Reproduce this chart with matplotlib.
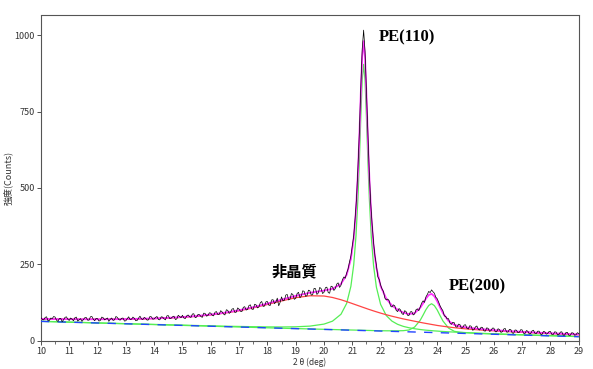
import matplotlib
matplotlib.use("Agg")
import matplotlib.pyplot as plt
import numpy as np

plt.rcParams['font.family'] = ['Noto Sans CJK JP', 'DejaVu Sans']

# --- Fit-Kurven (gemeinsames 2theta-Raster) ---
fit_x = [10.0, 10.5, 11.0, 11.5, 12.0, 12.5, 13.0, 13.5, 14.0, 14.5, 15.0, 15.5, 16.0, 16.5,
         17.0, 17.5, 18.0, 18.5, 19.0, 19.5, 20.0,
         20.3, 20.6, 20.8, 20.95, 21.05, 21.13, 21.2, 21.25, 21.3, 21.35, 21.4, 21.45, 21.5,
         21.55, 21.6, 21.67, 21.75, 21.85,
         22.0, 22.2, 22.4, 22.6, 22.8, 23.0, 23.2,
         23.4, 23.5, 23.6, 23.7, 23.8, 23.9, 24.0, 24.1, 24.2,
         24.4, 24.6, 24.8, 25.0,
         25.5, 26.0, 26.5, 27.0, 27.5, 28.0, 28.5, 29.0]

# amorpher Anteil + Untergrund (rot)
amorphous_fit = [71.8, 71.3, 70.9, 70.6, 70.5, 70.6, 71.1, 71.9, 73.1, 74.9, 77.3, 80.6, 85.1, 91.1,
                 98.6, 108.0, 119.2, 130.9, 141.4, 147.7, 146.9,
                 142.1, 134.7, 128.7, 123.9, 120.6, 118.0, 115.7, 114.1, 112.5, 110.8, 109.2, 107.6, 106.0,
                 104.3, 102.8, 100.7, 98.2, 95.3,
                 91.0, 85.7, 80.9, 76.4, 72.1, 68.3, 64.5,
                 60.8, 59.0, 57.3, 55.7, 54.0, 52.4, 50.7, 49.4, 48.1,
                 45.6, 43.4, 41.4, 39.6,
                 36.0, 33.1, 30.6, 28.3, 26.2, 24.2, 22.4, 20.5]

# PE(110) Peak + Untergrund (gruen)
pe110_fit = [64.3, 63.0, 61.7, 60.5, 59.1, 57.8, 56.6, 55.4, 54.1, 52.9, 51.8, 50.5, 49.4, 48.3,
             47.4, 46.6, 46.0, 45.7, 46.3, 48.5, 55.1,
             64.7, 87.3, 122.6, 178.7, 249.1, 342.9, 469.5, 591.2, 730.3, 852.9, 904.0, 852.7, 729.8,
             590.4, 468.5, 341.5, 247.3, 176.3,
             119.4, 83.1, 64.9, 54.4, 47.7, 43.2, 39.9,
             37.4, 36.3, 35.3, 34.5, 33.7, 32.9, 32.3, 31.6, 31.0,
             29.9, 29.0, 28.1, 27.3,
             25.3, 23.5, 21.9, 20.4, 18.9, 17.5, 16.1, 14.6]

# PE(200) Peak + Untergrund (gruen)
pe200_fit = [64.0, 62.7, 61.4, 60.1, 58.7, 57.4, 56.1, 54.8, 53.5, 52.2, 50.9, 49.5, 48.2, 46.9,
             45.6, 44.3, 43.0, 41.6, 40.5, 39.3, 38.1,
             37.4, 36.6, 36.2, 35.8, 35.6, 35.4, 35.2, 35.1, 35.0, 34.9, 34.8, 34.7, 34.6,
             34.4, 34.3, 34.1, 33.9, 33.7,
             33.4, 33.2, 33.1, 33.2, 33.6, 35.8, 45.3,
             67.8, 84.5, 102.2, 116.0, 121.7, 115.4, 101.2, 82.9, 65.6,
             42.1, 31.6, 28.4, 26.9,
             24.4, 22.6, 21.1, 19.7, 18.3, 16.9, 15.6, 14.2]

# Summe aller Anteile (magenta)
total_fit = [72.1, 71.6, 71.2, 71.0, 70.9, 71.0, 71.6, 72.5, 73.7, 75.6, 78.2, 81.6, 86.3, 92.5,
             100.4, 110.3, 122.2, 135.0, 147.4, 157.5, 164.7,
             170.4, 186.4, 216.3, 268.0, 335.5, 426.9, 551.4, 671.6, 809.2, 930.4, 980.0, 927.2, 802.8,
             661.9, 538.6, 409.7, 313.2, 239.7,
             179.0, 138.2, 116.1, 102.2, 92.8, 87.7, 91.1,
             108.4, 122.8, 138.4, 150.2, 154.0, 145.9, 129.8, 110.1, 91.5,
             65.4, 52.8, 47.7, 44.6,
             39.3, 35.4, 32.4, 29.8, 27.4, 25.2, 23.3, 21.3]

# linearer Untergrund (blau)
bg_x = [10.0, 29.0]
bg_y = [64.0, 14.0]

# --- Messdaten (schwarz), Schrittweite 0.05 deg ---
meas_x = np.arange(200, 581) / 20
meas_counts = [
    76, 70, 69, 77, 79, 66, 67, 75, 73, 80, 78, 68, 64, 73, 74, 63, 69, 77, 79, 71,   # 10
    67, 75, 71, 66, 76, 78, 65, 69, 73, 64, 70, 76, 77, 68, 68, 79, 80, 71, 66, 74,   # 11
    73, 65, 67, 78, 76, 69, 72, 75, 64, 71, 75, 67, 69, 80, 77, 70, 68, 74, 75, 65,   # 12
    66, 73, 79, 70, 71, 78, 74, 66, 67, 75, 81, 72, 70, 77, 74, 68, 69, 80, 79, 71,   # 13
    72, 77, 80, 70, 69, 79, 78, 72, 69, 82, 83, 73, 74, 79, 81, 70, 72, 84, 80, 76,   # 14
    84, 75, 73, 82, 85, 79, 77, 88, 89, 76, 78, 87, 86, 80, 77, 91, 90, 81, 83, 92,   # 15
    91, 84, 82, 94, 96, 86, 87, 99, 95, 88, 85, 102, 100, 90, 94, 104, 106, 93, 94, 108,   # 16
    104, 97, 96, 110, 112, 101, 103, 116, 118, 104, 103, 120, 118, 108, 111, 125, 129, 113, 114, 128,   # 17
    129, 117, 116, 134, 135, 122, 127, 140, 115, 126, 144, 131, 133, 150, 152, 134, 137, 155, 152, 136,   # 18
    139, 155, 159, 141, 147, 164, 162, 146, 148, 166, 164, 150, 151, 172, 171, 152, 157, 175, 171, 155,   # 19
    159, 174, 176, 158, 156, 179, 177, 165, 171, 186, 190, 175, 182, 200, 209, 205, 222, 235,   # 20.0-20.85
    258, 278, 311, 344, 402, 468, 569, 684, 829, 955, 1016,   # 20.9-21.4
    947, 813, 677, 551, 450, 382, 323, 278, 249, 210, 201,   # 21.45-21.95
    183, 170, 162, 140, 134, 137, 132, 114, 111, 118, 115, 100, 96, 106, 102, 90, 86, 99, 96, 84,   # 22
    83, 95, 96, 85, 88, 102, 105, 99, 112, 124, 131, 126, 144, 152, 162, 158, 167, 161, 156, 143,   # 23
    138, 127, 115, 106, 99, 82, 80, 72, 73, 58, 54, 61, 60, 47, 45, 55, 54, 42, 43, 52,   # 24
    53, 41, 39, 50, 48, 35, 37, 46, 49, 38, 36, 45, 44, 33, 32, 43, 41, 31, 34, 42,   # 25
    42, 30, 30, 40, 37, 28, 30, 39, 41, 29, 29, 38, 37, 26, 25, 36, 35, 27, 28, 37,   # 26
    36, 25, 24, 34, 32, 23, 24, 33, 35, 25, 24, 32, 32, 22, 21, 31, 30, 22, 24, 31,   # 27
    31, 21, 21, 30, 29, 20, 21, 29, 30, 19, 19, 28, 28, 18, 18, 27, 26, 19, 20, 27,   # 28
    24]

x_ticks = list(range(10, 30))
y_ticks = [0, 250, 500, 750, 1000]

fig = plt.figure(figsize=(5.93, 3.69), dpi=100)
ax = fig.add_axes([0.069, 0.076, 0.907, 0.883])

ax.plot(fit_x, pe110_fit, color='#55ee55', linewidth=0.9, zorder=2)
ax.plot(fit_x, pe200_fit, color='#55ee55', linewidth=0.9, zorder=2)
ax.plot(bg_x, bg_y, color='#2244ff', linewidth=1.0, dashes=(6, 6), zorder=3)
ax.plot(fit_x, amorphous_fit, color='#ff4444', linewidth=0.9, zorder=3)
ax.plot(fit_x, total_fit, color='#ff33ff', linewidth=1.3, zorder=4)
ax.plot(meas_x, meas_counts, color='#000000', linewidth=0.5, zorder=5)

# Beschriftungen der Peaks
ax.text(21.93, 993, 'PE(110)', fontsize=12, fontweight='bold', family='Liberation Serif',
        va='center', ha='left')
ax.text(18.15, 229, '非晶質', fontsize=11, fontweight='bold', va='center', ha='left')
ax.text(24.40, 178, 'PE(200)', fontsize=12, fontweight='bold', family='Liberation Serif',
        va='center', ha='left')

ax.set_xlim(10, 29)
ax.set_ylim(0, 1065)
ax.set_xticks(x_ticks)
ax.set_xticks(np.arange(10.5, 29, 1.0), minor=True)
ax.set_yticks(y_ticks)
ax.tick_params(axis='both', which='major', labelsize=6.5, length=3, width=0.6,
               colors='#333333', pad=1.5)
ax.tick_params(axis='x', which='minor', length=2, width=0.5, color='#333333')

for spine in ax.spines.values():
    spine.set_linestyle((0, (1, 1)))
    spine.set_linewidth(0.8)
    spine.set_color('#555555')

ax.set_xlabel('2 θ (deg)', fontsize=6, color='#333333', labelpad=1)
ax.set_ylabel('強度(Counts)', fontsize=6.5, color='#333333')
ax.yaxis.set_label_coords(-0.052, 0.5)

plt.savefig('out.png', dpi=100)
